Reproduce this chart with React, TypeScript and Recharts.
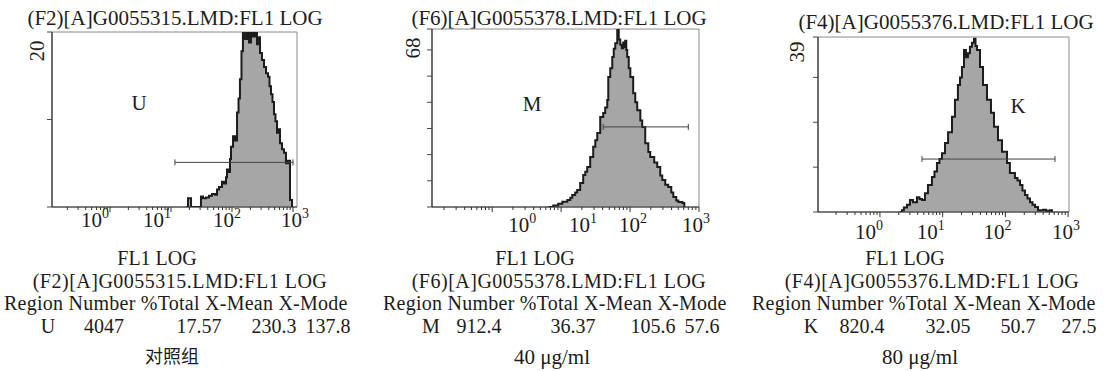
import React from 'react';
import {
  ComposedChart,
  Area,
  XAxis,
  YAxis,
  ReferenceArea,
  ReferenceLine,
  ReferenceDot,
} from 'recharts';

const FONT = '"Liberation Serif", "Times New Roman", "Noto Sans CJK SC", serif';
const INK = '#1c1c1c';

// ---------- data ----------
// Panel 1 (U, control)
const uFL1 = [17.6, 19.0, 21.3, 29.9, 31.0, 33.5, 37.5, 42.0, 47.0, 52.6, 56.8, 61.2, 68.5, 73.9, 79.8, 82.8, 89.3, 92.7, 96.3, 104, 112, 121, 128, 135, 143, 151, 163, 176, 190, 205, 221, 238, 257, 272, 288, 310, 335, 361, 389, 412, 436, 461, 488, 516, 547, 578, 612, 661, 712, 767, 828, 893, 964];
const uCount = [0, 1.0, 0, 0, 1.2, 1.0, 1.1, 1.3, 1.5, 1.4, 2.0, 2.3, 2.9, 2.7, 3.4, 4.3, 4.0, 5.5, 6.9, 8.1, 7.6, 10.8, 12.4, 14.6, 17.8, 20.5, 19.2, 20.5, 18.8, 20.5, 19.5, 20.5, 18.6, 19.4, 17.6, 16.8, 16.0, 15.3, 14.9, 13.8, 12.9, 12.0, 10.6, 9.8, 8.5, 8.9, 7.3, 6.6, 6.2, 5.0, 5.3, 0.8, 0];

// Panel 2 (M, 40 ug/ml)
const mFL1 = [6.5, 7.67, 9.08, 10.4, 12.3, 13.6, 14.5, 16.0, 17.1, 18.9, 20.9, 22.4, 23.9, 26.4, 29.2, 31.3, 33.4, 36.9, 40.8, 43.6, 46.7, 48.3, 51.6, 55.2, 58.0, 61.0, 65.2, 68.5, 72.1, 75.9, 79.6, 82.4, 85.1, 88.1, 91.0, 95.7, 101, 111, 119, 127, 141, 150, 166, 184, 196, 224, 248, 274, 293, 324, 358, 396, 424, 468, 501, 573, 612];
const mCount = [0, 0.6, 1.2, 2.0, 2.7, 3.5, 4.6, 5.5, 6.5, 9.2, 12.2, 13.5, 15.3, 19.1, 23.0, 25.5, 28.3, 34.4, 35.9, 38.0, 40.9, 49.7, 53.0, 57.3, 60.5, 62.6, 67.6, 64.0, 62.0, 60.6, 62.8, 61.1, 63.5, 60.0, 57.3, 53.0, 49.7, 43.5, 40.0, 37.0, 33.0, 30.6, 24.4, 21.0, 19.1, 17.0, 15.3, 12.0, 10.3, 8.5, 7.6, 5.5, 3.8, 2.5, 1.9, 1.5, 0];

// Panel 3 (K, 80 ug/ml)
const kFL1 = [2.08, 2.24, 2.41, 2.70, 3.01, 3.36, 3.89, 4.27, 4.68, 5.22, 5.83, 6.75, 7.40, 8.11, 8.89, 9.75, 10.9, 12.2, 14.1, 15.7, 17.5, 18.9, 20.3, 21.9, 23.5, 25.3, 27.2, 29.3, 31.6, 33.4, 35.2, 39.4, 44.0, 50.9, 58.9, 65.8, 76.2, 88.3, 106, 118, 142, 156, 171, 187, 205, 225, 247, 271, 297, 331, 398, 445, 514, 553];
const kCount = [0, 0.4, 1.0, 1.6, 2.7, 2.2, 3.3, 2.9, 2.7, 4.2, 6.0, 7.8, 9.0, 10.9, 11.8, 13.1, 15.4, 17.8, 21.2, 25.0, 28.3, 30.0, 32.3, 36.1, 34.5, 35.4, 36.8, 37.7, 38.6, 37.0, 36.1, 32.3, 28.3, 25.0, 22.1, 19.0, 16.0, 13.4, 10.9, 8.7, 7.6, 7.0, 6.0, 4.8, 3.8, 3.0, 2.2, 1.6, 1.1, 0.4, 0.5, 0.3, 0.4, 0];

// y-axis full scale and y ticks
const yMax = [20, 68, 39];
const yTicks = [
  [0, 10, 20],
  [0, 10, 20, 30, 40, 50, 60, 68],
  [0, 10, 20, 30, 39],
];

// x axis domains (log FL1 scale)
const xDomains: [number, number][] = [
  [0.112, 1163],
  [0.134, 1000],
  [0.103, 1033],
];
const decadeValues = [1, 10, 100, 1000];
const decadeExponents = ['0', '1', '2', '3'];
const minorMultipliers = [2, 3, 4, 5, 6, 7, 8, 9];

// region gates: [start, end, level]
const gateStart = [11.6, 40.8, 4.68];
const gateEnd = [1000, 700, 618];
const gateLevel = [5.1, 30.6, 11.8];

// region labels and their positions
const regionNames = ['U', 'M', 'K'];
const regionLabelX = [3.0, 3.8, 159];
const regionLabelY = [11.9, 39.3, 23.6];

// texts
const titles = ['(F2)[A]G0055315.LMD:FL1 LOG', '(F6)[A]G0055378.LMD:FL1 LOG', '(F4)[A]G0055376.LMD:FL1 LOG'];
const axisTitle = 'FL1 LOG';
const statsHeader = 'Region Number %Total X-Mean X-Mode';
const numbers = ['4047', '912.4', '820.4'];
const totals = ['17.57', '36.37', '32.05'];
const xMeans = ['230.3', '105.6', '50.7'];
const xModes = ['137.8', '57.6', '27.5'];
const captions = ['对照组', '40 μg/ml', '80 μg/ml'];

// ---------- layout (pixels) ----------
const ROW_FL1 = 258;
const ROW_FILE = 280.5;
const ROW_HEAD = 303;
const ROW_VAL = 325.5;
const ROW_CAP = 357;

const layouts = [
  {
    plot: { l: 52, r: 297, t: 32, b: 207 },
    titleC: [175, 18], fl1C: 157, fileC: 180, regionL: 4,
    colOff: [44, 100, 195, 270, 324], capC: 172, capSize: 18,
    yLab: { dx: 10, dy: 19 }, xLabOff: [-15, -14, -5, 2], xLabDy: 20,
  },
  {
    plot: { l: 432, r: 699, t: 29, b: 207 },
    titleC: [559, 18], fl1C: 535, fileC: 559, regionL: 383,
    colOff: [48, 96, 190, 270, 319], capC: 552, capSize: 21,
    yLab: { dx: 14, dy: 19 }, xLabOff: [30, 22, 3, -3], xLabDy: 25,
  },
  {
    plot: { l: 818, r: 1069, t: 37, b: 212 },
    titleC: [946, 22], fl1C: 905, fileC: 932, regionL: 752,
    colOff: [59, 110, 196, 266, 327], capC: 920, capSize: 21,
    yLab: { dx: 16, dy: 15 }, xLabOff: [-11, -12, -8, -2], xLabDy: 27,
  },
];

const seriesX = [uFL1, mFL1, kFL1];
const seriesY = [uCount, mCount, kCount];

function buildTicks(domain: [number, number]) {
  const out: number[] = [];
  for (const d of [0.1, 1, 10, 100]) {
    for (const m of minorMultipliers) {
      const v = +(d * m).toPrecision(3);
      if (v >= domain[0] && v <= domain[1]) out.push(v);
    }
    const nv = d * 10;
    if (nv >= domain[0] && nv <= domain[1]) out.push(nv);
  }
  return out.sort((a, b) => a - b);
}

const Txt = ({ cx, cy, children, size = 20, spacing = 0, align = 'center' as 'center' | 'left' }: any) => (
  <div
    style={{
      position: 'absolute',
      left: align === 'center' ? cx - 300 : cx,
      top: cy - 10,
      width: align === 'center' ? 600 : undefined,
      textAlign: align,
      lineHeight: '20px',
      fontSize: size,
      letterSpacing: spacing,
      fontFamily: FONT,
      color: INK,
      whiteSpace: 'nowrap',
    }}
  >
    {children}
  </div>
);

function Panel({ i }: { i: number }) {
  const L = layouts[i];
  const { l, r, t, b } = L.plot;
  const padL = 50;
  const padR = 20;
  const yAxisW = 30;
  const xAxisH = 30;
  const width = r - l + padL + padR;
  const height = b + 40;
  const data = seriesX[i].map((x, k) => ({ fl1: x, count: seriesY[i][k] }));
  const domain = xDomains[i];
  const ticks = buildTicks(domain);

  const XTick = (p: any) => {
    const v = p.payload.value;
    const di = decadeValues.indexOf(v);
    const major = di >= 0;
    return (
      <g>
        <line x1={p.x} y1={p.y} x2={p.x} y2={p.y + (major ? 5 : 3)} stroke="#333" strokeWidth={1} />
        {major && (
          <text
            x={p.x + L.xLabOff[di]}
            y={p.y + L.xLabDy}
            textAnchor="middle"
            fontFamily={FONT}
            fontSize={21}
            fill={INK}
          >
            10
            <tspan dy={-9} fontSize={14}>
              {decadeExponents[di]}
            </tspan>
          </text>
        )}
      </g>
    );
  };

  const YTick = (p: any) => {
    const v = p.payload.value;
    if (v !== yMax[i]) return <g />;
    const cx = p.x - L.yLab.dx;
    const cy = p.y + L.yLab.dy;
    return (
      <text
        transform={`translate(${cx},${cy}) rotate(-90)`}
        textAnchor="middle"
        dominantBaseline="central"
        fontFamily={FONT}
        fontSize={21}
        fill={INK}
      >
        {v}
      </text>
    );
  };

  const gateShape = (p: any) => (
    <g>
      <line x1={p.x1} y1={p.y1} x2={p.x2} y2={p.y2} stroke="#444" strokeWidth={1} />
      <line x1={p.x1} y1={p.y1 - 3} x2={p.x1} y2={p.y1 + 3} stroke="#444" strokeWidth={1} />
      <line x1={p.x2} y1={p.y2 - 3} x2={p.x2} y2={p.y2 + 3} stroke="#444" strokeWidth={1} />
    </g>
  );

  return (
    <div style={{ position: 'absolute', left: l - padL, top: 0, width, height }}>
      <ComposedChart
        width={width}
        height={height}
        data={data}
        margin={{ top: t, right: padR, bottom: height - b - xAxisH, left: padL - yAxisW }}
      >
        <XAxis
          dataKey="fl1"
          type="number"
          scale="log"
          domain={domain}
          allowDataOverflow
          ticks={ticks}
          interval={0}
          tick={<XTick />}
          tickLine={false}
          tickSize={0}
          tickMargin={0}
          height={xAxisH}
          axisLine={{ stroke: '#333', strokeWidth: 1.2 }}
        />
        <YAxis
          type="number"
          domain={[0, yMax[i]]}
          allowDataOverflow
          ticks={yTicks[i]}
          interval={0}
          width={yAxisW}
          tickSize={5}
          tickMargin={0}
          tickLine={{ stroke: '#444' }}
          tick={<YTick />}
          axisLine={{ stroke: '#333', strokeWidth: 1.2 }}
        />
        <ReferenceArea
          x1={domain[0]}
          x2={domain[1]}
          y1={0}
          y2={yMax[i]}
          fill="none"
          stroke="#8a8a8a"
          strokeWidth={1}
          ifOverflow="visible"
        />
        <Area
          type="stepAfter"
          dataKey="count"
          stroke={INK}
          strokeWidth={2}
          fill="#a6a6a6"
          fillOpacity={1}
          dot={false}
          activeDot={false}
          isAnimationActive={false}
        />
        <ReferenceLine
          segment={[
            { x: gateStart[i], y: gateLevel[i] },
            { x: gateEnd[i], y: gateLevel[i] },
          ]}
          shape={gateShape}
          ifOverflow="visible"
        />
        <ReferenceDot
          x={regionLabelX[i]}
          y={regionLabelY[i]}
          r={1}
          ifOverflow="visible"
          shape={(p: any) => (
            <text
              x={p.cx}
              y={p.cy}
              textAnchor="middle"
              dominantBaseline="central"
              fontFamily={FONT}
              fontSize={21}
              fill={INK}
            >
              {regionNames[i]}
            </text>
          )}
        />
      </ComposedChart>
    </div>
  );
}

export default function App() {
  return (
    <div
      style={{
        position: 'absolute',
        left: 0,
        top: 0,
        width: 1110,
        height: 371,
        background: '#ffffff',
        overflow: 'hidden',
      }}
    >
      {[0, 1, 2].map((i) => (
        <Panel key={'p' + i} i={i} />
      ))}
      {layouts.map((L, i) => (
        <React.Fragment key={'t' + i}>
          <Txt cx={L.titleC[0]} cy={L.titleC[1]} size={21}>{titles[i]}</Txt>
          <Txt cx={L.fl1C} cy={ROW_FL1}>{axisTitle}</Txt>
          <Txt cx={L.fileC} cy={ROW_FILE} spacing={0.5}>{titles[i]}</Txt>
          <Txt cx={L.regionL} cy={ROW_HEAD} spacing={0.25} align="left">{statsHeader}</Txt>
          <Txt cx={L.regionL + L.colOff[0]} cy={ROW_VAL}>{regionNames[i]}</Txt>
          <Txt cx={L.regionL + L.colOff[1]} cy={ROW_VAL}>{numbers[i]}</Txt>
          <Txt cx={L.regionL + L.colOff[2]} cy={ROW_VAL}>{totals[i]}</Txt>
          <Txt cx={L.regionL + L.colOff[3]} cy={ROW_VAL}>{xMeans[i]}</Txt>
          <Txt cx={L.regionL + L.colOff[4]} cy={ROW_VAL}>{xModes[i]}</Txt>
          <Txt cx={L.capC} cy={ROW_CAP} size={L.capSize}>{captions[i]}</Txt>
        </React.Fragment>
      ))}
    </div>
  );
}
